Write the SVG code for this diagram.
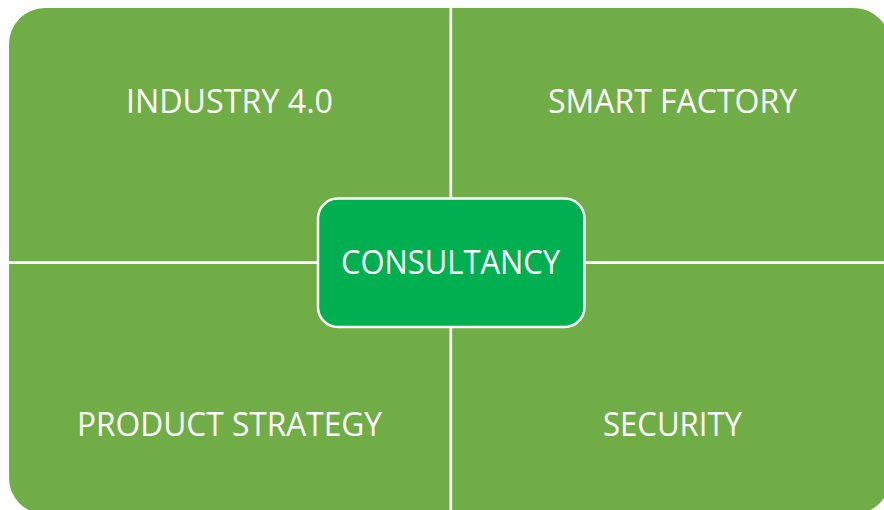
<svg xmlns="http://www.w3.org/2000/svg" width="884" height="510" viewBox="0 0 884 510">
  <style>
    .quad { fill: #70AD47; }
    .divider { stroke: #FFFFFF; stroke-width: 2.7; fill: none; }
    .label { fill: #FFFFFF; font-family: "Open Sans", "Liberation Sans", sans-serif; font-size: 32px; text-anchor: middle; }
    .hub { fill: #00B050; stroke: #FFFFFF; stroke-width: 2.5; }
  </style>
  <rect width="884" height="510" fill="#FFFFFF"/>

  <!-- Green panel split into four quadrants -->
  <g id="panel">
    <rect class="quad" x="9" y="8" width="881" height="506" rx="36" ry="36"/>
  </g>

  <!-- Quadrant dividers -->
  <g id="connectors">
    <line class="divider" x1="450.8" y1="0" x2="450.8" y2="510"/>
    <line class="divider" x1="0" y1="262.6" x2="884" y2="262.6"/>
  </g>

  <g id="industry">
    <text class="label" x="229.5" y="112.5" textLength="207" lengthAdjust="spacingAndGlyphs">INDUSTRY 4.0</text>
  </g>
  <g id="smart-factory">
    <text class="label" x="672.5" y="112.5" textLength="249" lengthAdjust="spacingAndGlyphs">SMART FACTORY</text>
  </g>
  <g id="product-strategy">
    <text class="label" x="229.5" y="435.5" textLength="305" lengthAdjust="spacingAndGlyphs">PRODUCT STRATEGY</text>
  </g>
  <g id="security">
    <text class="label" x="672.5" y="435.5" textLength="139" lengthAdjust="spacingAndGlyphs">SECURITY</text>
  </g>

  <!-- Central hub -->
  <g id="consultancy">
    <rect class="hub" x="318" y="198.5" width="266.5" height="128.5" rx="20" ry="20"/>
    <text class="label" x="450.5" y="273.5" textLength="219" lengthAdjust="spacingAndGlyphs">CONSULTANCY</text>
  </g>
</svg>
